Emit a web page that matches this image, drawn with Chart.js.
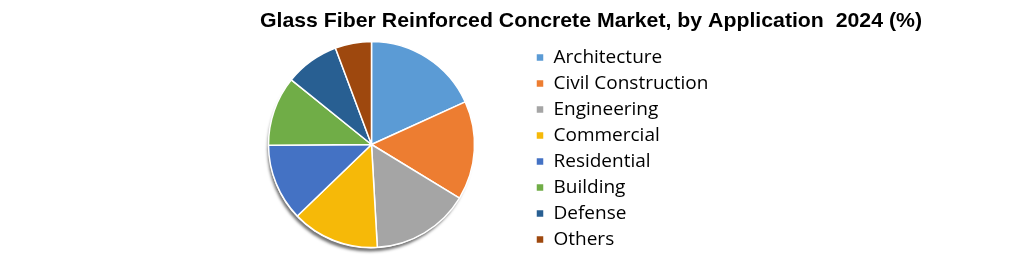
<!DOCTYPE html>
<html>
<head>
<meta charset="utf-8">
<script src="https://cdn.jsdelivr.net/npm/chart.js@4.4.1/dist/chart.umd.min.js"></script>
<style>
  html, body { margin: 0; padding: 0; background: #fff; }
</style>
</head>
<body>
<canvas id="pieChart" width="1020" height="257"></canvas>
<script>
// Data
const chartTitle = "Glass Fiber Reinforced Concrete Market, by Application  2024 (%)";
const categories = ["Architecture", "Civil Construction", "Engineering", "Commercial",
                    "Residential", "Building", "Defense", "Others"];
const shares = [18.2, 15.5, 15.4, 13.7, 12.1, 10.9, 8.5, 5.7];
const sliceColors = ["#5B9BD5", "#ED7D31", "#A5A5A5", "#F6B908",
                     "#4472C4", "#70AD47", "#285F92", "#9E480E"];

// legend sizing, so the legend lands where it sits in the picture
const legendFont = { family: "'Open Sans', sans-serif", size: 19 };
const legendPad = 7;
const legendBox = 8;
const legendLeft = 529;
const mctx = document.createElement("canvas").getContext("2d");
mctx.font = legendFont.size + "px " + legendFont.family;
const longest = Math.max(...categories.map(c => mctx.measureText(c).width));
// chart.js adds 10px to a vertical legend's width
const legendWidth = legendPad + legendBox + legendFont.size / 2 + longest + 10;
const padRight = 1020 - legendLeft - legendWidth;

// title drawn across the top, stretched to the width it has in the picture
const titlePlugin = {
  id: "topTitle",
  afterDraw(chart) {
    const ctx = chart.ctx;
    ctx.save();
    ctx.font = "bold 21px 'Liberation Sans Narrow', 'Liberation Sans', sans-serif";
    ctx.fillStyle = "#000";
    ctx.textBaseline = "alphabetic";
    ctx.textAlign = "left";
    const w = ctx.measureText(chartTitle).width;
    ctx.translate(260, 26.5);
    ctx.scale(662 / w, 1);
    ctx.fillText(chartTitle, 0, 0);
    ctx.restore();
  }
};

// soft shadow under the pie
const shadowPlugin = {
  id: "pieShadow",
  beforeDatasetsDraw(chart) {
    const arc = chart.getDatasetMeta(0).data[0];
    if (!arc) return;
    const ctx = chart.ctx;
    ctx.save();
    ctx.beginPath();
    ctx.arc(arc.x - 1, arc.y + 2, arc.outerRadius - 1, 0, Math.PI * 2);
    ctx.fillStyle = "#fff";
    ctx.shadowColor = "rgba(0,0,0,0.55)";
    ctx.shadowBlur = 3;
    ctx.shadowOffsetX = -1;
    ctx.shadowOffsetY = 3;
    ctx.fill();
    ctx.restore();
  }
};

new Chart(document.getElementById("pieChart"), {
  type: "pie",
  data: {
    labels: categories,
    datasets: [{
      data: shares,
      backgroundColor: sliceColors,
      borderColor: "#fff",
      borderWidth: 1.5,
      radius: 103
    }]
  },
  options: {
    responsive: false,
    animation: false,
    layout: { padding: { top: 33, bottom: 1, left: 214, right: padRight } },
    plugins: {
      title: { display: false },
      tooltip: { enabled: false },
      legend: {
        position: "right",
        align: "end",
        labels: {
          boxWidth: legendBox,
          boxHeight: legendBox,
          padding: legendPad,
          color: "#000",
          font: legendFont
        }
      }
    }
  },
  plugins: [shadowPlugin, titlePlugin]
});
</script>
</body>
</html>
